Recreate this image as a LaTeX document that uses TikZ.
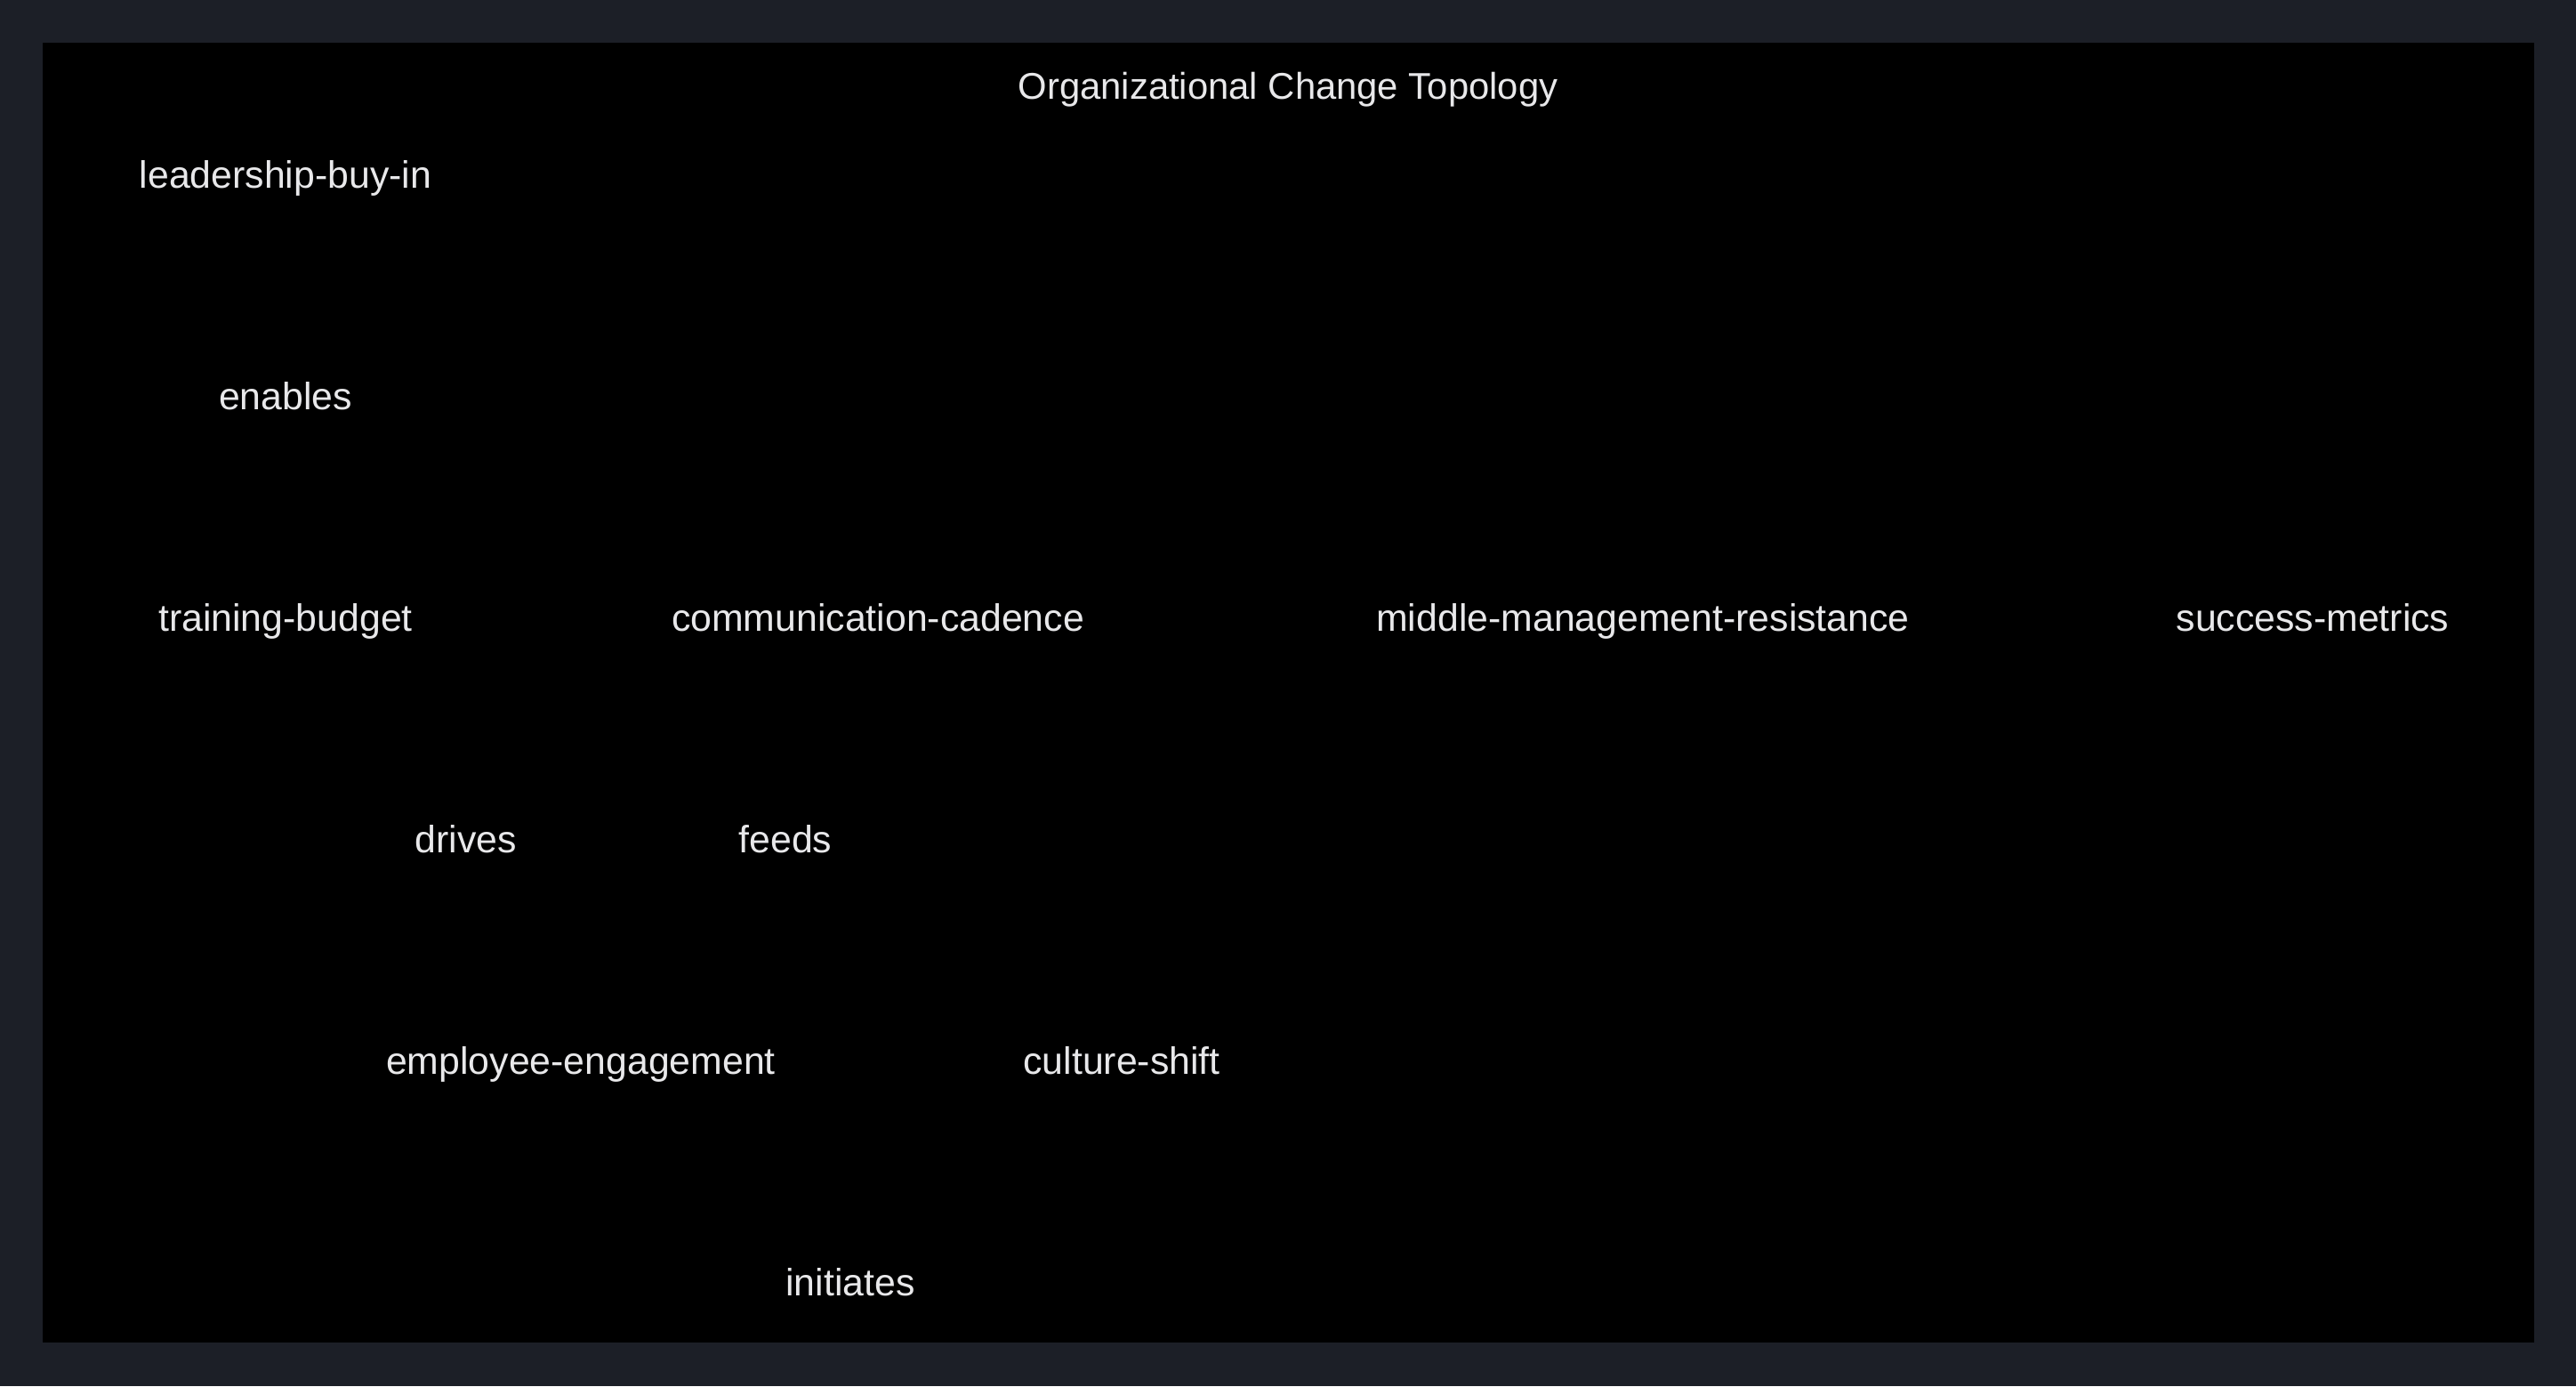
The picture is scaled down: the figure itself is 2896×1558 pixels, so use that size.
\documentclass[tikz,border=0pt]{standalone}
\usepackage{fontspec}
\setmainfont{Liberation Sans}
\definecolor{pagebg}{HTML}{1C1F27}
\definecolor{inkwhite}{HTML}{E8E8EA}
\begin{document}
\begin{tikzpicture}[x=0.5pt,y=-0.5pt,
    term/.style={text=inkwhite,anchor=base,inner sep=0pt,font=\fontsize{21.4}{25}\selectfont}]
	\fill[pagebg] (0,0) rectangle (2896,1558);
	\fill[black] (48,48) rectangle (2849,1509);
	\node[term,font=\fontsize{20.9}{25}\selectfont] (title) at (1448,111) {Organizational Change Topology};
	\node[term] (lead) at (321,211) {leadership-buy-in};
	\node[term] (enables) at (321,460) {enables};
	\node[term] (budget) at (321,709) {training-budget};
	\node[term] (cadence) at (987,709) {communication-cadence};
	\node[term] (resist) at (1847,709) {middle-management-resistance};
	\node[term] (metrics) at (2600,709) {success-metrics};
	\node[term] (drives) at (524,958) {drives};
	\node[term] (feeds) at (883,958) {feeds};
	\node[term] (engage) at (653,1207) {employee-engagement};
	\node[term] (culture) at (1261,1207) {culture-shift};
	\node[term] (initiates) at (956,1456) {initiates};
\end{tikzpicture}
\end{document}
